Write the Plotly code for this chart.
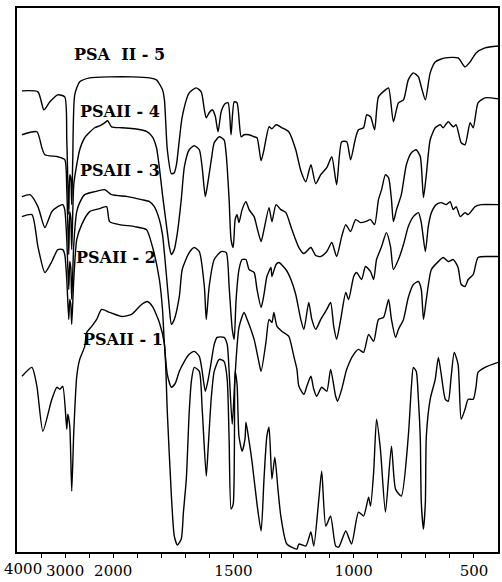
import plotly.graph_objects as go

# ---- data: wavenumber (cm-1) and offset transmittance (arbitrary units) ----
wn_5 = [3897, 3565, 3441, 3317, 3152, 3007, 2965, 2924, 2903, 2882, 2862, 2841, 2800, 2696, 2489, 2075,
        1920, 1849, 1820, 1795, 1787, 1775, 1758, 1746, 1737, 1713, 1684, 1655, 1634, 1621, 1613, 1601,
        1588, 1576, 1564, 1551, 1535, 1522, 1510, 1497, 1485, 1468, 1456, 1435, 1414, 1402, 1385, 1373,
        1352, 1340, 1323, 1298, 1270, 1241, 1220, 1199, 1178, 1158, 1137, 1112, 1091, 1071, 1050, 1029,
        1013, 992, 980, 959, 946, 930, 913, 897, 868, 855, 835, 814, 793, 773, 752, 731, 719, 702, 682,
        661, 619, 566, 537, 516, 491, 454, 400]
tr_5 = [462, 461, 443, 451, 458, 456, 413, 338, 378, 375, 348, 393, 458, 471, 475, 476,
        476, 475, 473, 463, 453, 403, 379, 380, 388, 436, 460, 465, 461, 443, 435, 440,
        443, 437, 421, 441, 449, 450, 418, 451, 450, 416, 418, 418, 416, 415, 392, 403,
        426, 424, 428, 425, 421, 403, 382, 371, 388, 369, 378, 385, 396, 368, 411, 411,
        393, 415, 423, 425, 438, 436, 423, 456, 463, 465, 431, 450, 453, 473, 480, 476, 466, 453, 480,
        491, 495, 495, 486, 491, 500, 505, 507]

wn_4 = [3897, 3586, 3483, 3420, 3152, 3007, 2965, 2924, 2903, 2882, 2862, 2820, 2758, 2696, 2592, 2386,
        2282, 2178, 2116, 2034, 1965, 1911, 1858, 1837, 1820, 1808, 1795, 1779, 1766, 1758, 1746, 1733,
        1717, 1704, 1684, 1663, 1642, 1630, 1617, 1609, 1592, 1580, 1559, 1539, 1530, 1518, 1510, 1501,
        1493, 1485, 1477, 1464, 1448, 1435, 1414, 1402, 1385, 1373, 1352, 1340, 1323, 1303, 1282, 1257,
        1228, 1207, 1178, 1158, 1137, 1112, 1091, 1071, 1050, 1033, 1013, 992, 971, 951, 930, 913, 897,
        884, 868, 855, 843, 835, 822, 802, 781, 760, 740, 723, 710, 698, 682, 661, 640, 628, 607, 586,
        574, 553, 537, 516, 503, 483, 454, 400]
tr_4 = [418, 421, 405, 398, 396, 393, 363, 298, 341, 335, 303, 368, 388, 403, 415, 425,
        427, 430, 432, 426, 425, 424, 421, 416, 405, 385, 358, 328, 305, 298, 303, 320,
        353, 386, 403, 407, 403, 385, 356, 366, 393, 410, 416, 413, 398, 353, 313, 305,
        333, 338, 330, 343, 351, 343, 336, 325, 311, 323, 345, 331, 348, 343, 340, 323,
        305, 299, 305, 297, 296, 301, 310, 296, 316, 328, 321, 333, 330, 331, 333, 328, 353,
        363, 378, 375, 353, 331, 343, 358, 388, 400, 403, 396, 355, 378, 413, 425, 428, 425, 431, 426,
        428, 410, 408, 430, 425, 450, 455, 454]

wn_3 = [3897, 3731, 3565, 3420, 3276, 3152, 3048, 3007, 2965, 2924, 2903, 2882, 2862, 2820, 2758, 2696,
        2592, 2386, 2178, 2034, 1940, 1882, 1849, 1829, 1808, 1795, 1779, 1766, 1758, 1746, 1725, 1713,
        1684, 1663, 1642, 1621, 1613, 1601, 1580, 1551, 1530, 1518, 1505, 1497, 1489, 1477, 1464, 1448,
        1435, 1414, 1402, 1385, 1373, 1361, 1344, 1340, 1323, 1311, 1282, 1261, 1241, 1220, 1207, 1187,
        1174, 1158, 1137, 1112, 1096, 1083, 1071, 1054, 1033, 1021, 1000, 988, 967, 951, 930, 917, 905,
        884, 864, 847, 835, 814, 793, 773, 752, 731, 719, 702, 690, 677, 657, 636, 615, 599, 586, 574,
        557, 537, 524, 495, 470, 400]
tr_3 = [356, 358, 346, 325, 341, 346, 348, 343, 313, 263, 291, 285, 253, 308, 341, 350,
        358, 361, 363, 358, 356, 353, 351, 346, 333, 318, 278, 243, 228, 233, 256, 283,
        300, 305, 301, 266, 233, 266, 293, 301, 300, 266, 223, 213, 253, 283, 293, 293,
        283, 280, 263, 245, 258, 276, 285, 276, 288, 290, 283, 273, 258, 233, 223, 250,
        233, 223, 233, 243, 250, 226, 213, 233, 260, 253, 276, 280, 273, 286, 281, 273, 293,
        306, 320, 306, 283, 293, 308, 326, 336, 340, 330, 301, 326, 340, 348, 350, 348, 351, 343, 346,
        336, 340, 338, 346, 348, 348]

wn_2 = [3897, 3690, 3565, 3420, 3276, 3152, 3048, 3007, 2965, 2924, 2903, 2882, 2862, 2820, 2758, 2655,
        2489, 2282, 2137, 2075, 1973, 1911, 1862, 1837, 1808, 1795, 1787, 1775, 1758, 1742, 1725, 1704,
        1684, 1663, 1642, 1630, 1617, 1605, 1592, 1580, 1568, 1539, 1526, 1518, 1505, 1493, 1477, 1456,
        1443, 1414, 1394, 1385, 1365, 1352, 1340, 1332, 1319, 1298, 1270, 1249, 1236, 1228, 1207, 1195,
        1178, 1166, 1154, 1133, 1112, 1096, 1075, 1067, 1050, 1029, 1000, 980, 959, 938, 917, 897, 876,
        855, 843, 826, 814, 793, 773, 752, 731, 719, 710, 698, 677, 648, 628, 607, 586, 566, 553, 537,
        524, 503, 483, 441, 400]
tr_2 = [336, 338, 306, 280, 291, 303, 303, 298, 273, 233, 253, 248, 228, 273, 313, 328,
        341, 344, 346, 331, 328, 326, 323, 306, 273, 243, 208, 178, 165, 169, 181, 191,
        198, 201, 196, 181, 161, 173, 191, 208, 215, 215, 208, 181, 128, 178, 225, 240,
        233, 213, 190, 181, 210, 233, 230, 240, 226, 221, 216, 196, 183, 166, 158, 166,
        176, 163, 156, 165, 161, 183, 156, 151, 163, 183, 198, 203, 200, 218, 211, 233, 235,
        253, 233, 215, 223, 233, 255, 268, 271, 263, 233, 253, 283, 291, 295, 291, 293, 285, 268, 266,
        273, 278, 295, 296, 296]

wn_1 = [3897, 3690, 3586, 3462, 3276, 3172, 3110, 3048, 2965, 2944, 2903, 2862, 2820, 2758, 2696, 2592,
        2551, 2448, 2344, 2241, 2075, 1965, 1924, 1882, 1858, 1837, 1808, 1787, 1775, 1758, 1746, 1733,
        1717, 1708, 1696, 1684, 1675, 1663, 1642, 1630, 1613, 1605, 1592, 1580, 1559, 1539, 1526, 1518,
        1510, 1501, 1493, 1485, 1477, 1464, 1452, 1448, 1435, 1423, 1402, 1385, 1373, 1361, 1352, 1340,
        1328, 1315, 1303, 1278, 1236, 1228, 1199, 1178, 1166, 1145, 1133, 1116, 1096, 1075, 1062, 1033,
        1009, 980, 959, 938, 930, 917, 905, 889, 868, 843, 826, 802, 773, 760, 752, 740, 731, 723, 719,
        710, 702, 698, 682, 661, 648, 636, 619, 607, 595, 582, 566, 553, 537, 524, 503, 491, 483, 454, 400]
tr_1 = [176, 185, 166, 121, 153, 165, 163, 166, 123, 138, 126, 61, 120, 176, 193, 206,
        220, 226, 233, 243, 240, 236, 238, 248, 251, 246, 230, 208, 140, 56, 16, 7,
        13, 40, 73, 140, 171, 185, 181, 143, 76, 105, 155, 181, 193, 191, 173, 113,
        43, 48, 181, 168, 116, 101, 113, 130, 111, 91, 48, 21, 73, 116, 125, 73,
        95, 63, 36, 8, 3, 8, 6, 20, 6, 53, 81, 26, 36, 6, 5, 21,
        8, 40, 36, 55, 46, 80, 133, 103, 40, 106, 63, 56, 116, 166, 185, 181, 153, 113, 50,
        23, 50, 116, 153, 173, 195, 178, 153, 151, 175, 200, 188, 133, 143, 153, 153, 166, 180, 185, 190]

labels = ["PSA\u00a0\u00a0II - 5", "PSAII - 4", "PSAII - 3", "PSAII - 2", "PSAII - 1"]
label_px = [(120, 55), (120, 112), (120, 171), (116, 258), (123, 340)]

tick_major = [3000, 2000, 1500, 1000, 500]
tick_minor = [3500, 2500, 1900, 1800, 1700, 1600, 1400, 1300, 1200, 1100, 900, 800, 700, 600]


def axis_pos(w):
    # scale change at 2000 cm-1 (upper region compressed 5x)
    return (4000 - w) / 5.0 if w >= 2000 else 400 + (2000 - w)


W, H = 502, 582
L, R, T, B = 17, 2, 8, 29
YMAX = 545

fig = go.Figure()
for wn, tr in [(wn_5, tr_5), (wn_4, tr_4), (wn_3, tr_3), (wn_2, tr_2), (wn_1, tr_1)]:
    fig.add_trace(go.Scatter(x=[axis_pos(w) for w in wn], y=tr, mode="lines",
                             line=dict(color="black", width=1.4, shape="spline", smoothing=0.6),
                             hoverinfo="skip"))

tickvals = [axis_pos(v) for v in tick_major + tick_minor]
ticktext = [str(v) for v in tick_major] + ["" for _ in tick_minor]

pw, ph = W - L - R, H - T - B
annotations = []
for text, (px, py) in zip(labels, label_px):
    annotations.append(dict(text=text, xref="paper", yref="paper",
                            x=(px - L) / pw, y=(H - B - py) / ph,
                            showarrow=False, xanchor="center", yanchor="middle",
                            font=dict(family="DejaVu Serif", size=16, color="black", weight="bold")))
annotations.append(dict(text="4000", xref="paper", yref="paper", x=(23 - L) / pw, y=-(570 - (H - B)) / ph,
                        showarrow=False, xanchor="center", yanchor="middle",
                        font=dict(family="DejaVu Serif", size=15, color="black")))

fig.update_layout(
    width=W, height=H, margin=dict(l=L, r=R, t=T, b=B, pad=0),
    paper_bgcolor="white", plot_bgcolor="white", showlegend=False,
    xaxis=dict(range=[0, 2000], showgrid=False, zeroline=False, showline=True, mirror=True,
               linecolor="black", linewidth=1.5, ticks="outside", ticklen=4, tickwidth=1.2,
               tickcolor="black", tickvals=tickvals, ticktext=ticktext,
               tickfont=dict(family="DejaVu Serif", size=15, color="black")),
    yaxis=dict(range=[0, YMAX], showgrid=False, zeroline=False, showline=True, mirror=True,
               linecolor="black", linewidth=1.5, showticklabels=False, ticks=""),
    annotations=annotations,
)

fig.write_html("out.html", config={"displayModeBar": False})
